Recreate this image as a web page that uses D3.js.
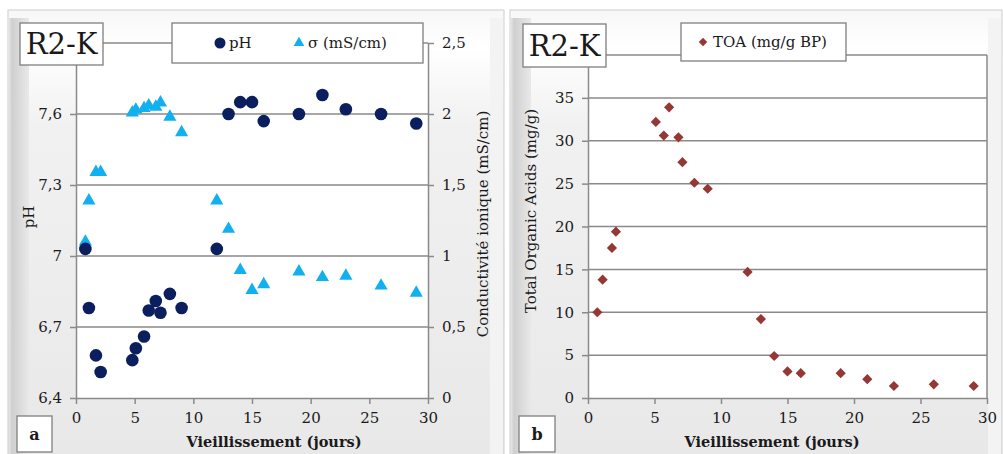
<!DOCTYPE html>
<html><head><meta charset="utf-8">
<script src="https://cdn.jsdelivr.net/npm/d3@7"></script>
<style>
body{margin:0;background:#fff}
svg{display:block}
text{font-family:"DejaVu Serif","Liberation Serif",serif;fill:#1a1a1a}
</style>
</head><body>
<svg id="c" width="1003" height="454"></svg>
<script>
// ---------- data ----------
const daysA = [0.8,1.1,1.7,2.1,4.8,5.1,5.8,6.2,6.8,7.2,8,9,12,13,14,15,16,19,21,23,26,29];
const pHValues = [7.03,6.78,6.58,6.51,6.56,6.61,6.66,6.77,6.81,6.76,6.84,6.78,7.03,7.60,7.65,7.65,7.57,7.60,7.68,7.62,7.60,7.56];
const sigmaValues = [1.10,1.39,1.59,1.59,2.01,2.03,2.04,2.06,2.05,2.08,1.98,1.87,1.39,1.19,0.90,0.76,0.80,0.89,0.85,0.86,0.79,0.74];
const daysB = [0.7,1.1,1.8,2.1,5.1,5.7,6.1,6.8,7.1,8,9,12,13,14,15,16,19,21,23,26,29];
const toaValues = [10.0,13.8,17.5,19.4,32.2,30.6,33.9,30.4,27.5,25.1,24.4,14.7,9.2,4.9,3.1,2.9,2.9,2.2,1.4,1.6,1.4];
const pHTicks = [6.4,6.7,7.0,7.3,7.6,7.9];
const sigmaTicks = [0,0.5,1,1.5,2,2.5];
const dayTicks = [0,5,10,15,20,25,30];
const toaTicks = [0,5,10,15,20,25,30,35,40];
const fmt = d => String(+d.toFixed(2)).replace('.', ',');

const COL_PH = "#0b1f5e", COL_SIG = "#12b0ee", COL_TOA = "#953735";
const GRID = "#8a8a8a";

const svg = d3.select("#c");
const defs = svg.append("defs");
const lg = defs.append("linearGradient").attr("id","leftBevel").attr("x1",0).attr("x2",1);
lg.append("stop").attr("offset",0).attr("stop-color","#e4e4e4");
lg.append("stop").attr("offset",0.15).attr("stop-color","#cfcfcf");
lg.append("stop").attr("offset",1).attr("stop-color","#e9e9e9");
const tg = defs.append("linearGradient").attr("id","topFill").attr("x1",0).attr("x2",0).attr("y1",0).attr("y2",1);
tg.append("stop").attr("offset",0).attr("stop-color","#f7f7f7");
tg.append("stop").attr("offset",0.08).attr("stop-color","#ffffff");
tg.append("stop").attr("offset",0.25).attr("stop-color","#f1f1f1");
tg.append("stop").attr("offset",1).attr("stop-color","#e8e8e8");

function frame(x0, x1) {
  const g = svg.append("g");
  g.append("rect").attr("x",x0).attr("y",10).attr("width",x1-x0).attr("height",460)
    .attr("fill","url(#topFill)").attr("stroke","#cdcdcd");
  g.append("rect").attr("x",x0+1).attr("y",18).attr("width",20).attr("height",450).attr("fill","url(#leftBevel)");
  g.append("rect").attr("x",x1-14).attr("y",18).attr("width",13).attr("height",450).attr("fill","#f3f3f3");
}
frame(8, 504);
frame(510, 1002);

function box(x, y, w, h, label, size, weight) {
  svg.append("rect").attr("x",x).attr("y",y).attr("width",w).attr("height",h)
    .attr("fill","#fff").attr("stroke","#7f7f7f").attr("stroke-width",1.3);
  svg.append("text").attr("x",x+w/2).attr("y",y+h/2).attr("text-anchor","middle")
    .attr("dominant-baseline","central").style("font-size",size+"px").style("font-weight",weight).text(label);
}

// ---------- panel a ----------
const xA = d3.scaleLinear().domain([0,30]).range([76,428]);
const yPH = d3.scaleLinear().domain([6.4,7.9]).range([398,43]);
const ySig = d3.scaleLinear().domain([0,2.5]).range([398,43]);

const gA = svg.append("g");
gA.append("rect").attr("x",xA(0)).attr("y",yPH(7.9)).attr("width",xA(30)-xA(0)).attr("height",yPH(6.4)-yPH(7.9)).attr("fill","#fff");
gA.selectAll("line.grid").data(pHTicks.slice(1)).join("line")
  .attr("x1",xA(0)).attr("x2",xA(30)).attr("y1",d=>yPH(d)).attr("y2",d=>yPH(d))
  .attr("stroke",GRID).attr("stroke-width",1.5);

const axL = gA.append("g").attr("transform",`translate(${xA(0)},0)`)
  .call(d3.axisLeft(yPH).tickValues(pHTicks.slice(0,5)).tickFormat(fmt).tickSize(6).tickSizeOuter(0));
const axR = gA.append("g").attr("transform",`translate(${xA(30)},0)`)
  .call(d3.axisRight(ySig).tickValues(sigmaTicks).tickFormat(fmt).tickSize(6).tickSizeOuter(0));
const axBA = gA.append("g").attr("transform",`translate(0,${yPH(6.4)})`)
  .call(d3.axisBottom(xA).tickValues(dayTicks).tickSize(6).tickSizeOuter(0));
[axL,axR,axBA].forEach(a=>{
  a.select(".domain").attr("stroke",GRID).attr("stroke-width",1.5);
  a.selectAll(".tick line").attr("stroke",GRID).attr("stroke-width",1.5);
  a.selectAll("text").style("font-size","15px").attr("fill","#1a1a1a").style("font-family",'"DejaVu Serif",serif');
});
axL.selectAll("text").attr("x",-14);
axR.selectAll("text").attr("x",14);
axBA.selectAll("text").attr("y",14);

gA.selectAll("path.sig").data(daysA).join("path")
  .attr("d", d3.symbol(d3.symbolTriangle, 75))
  .attr("transform",(d,i)=>`translate(${xA(d)},${ySig(sigmaValues[i])})`)
  .attr("fill",COL_SIG);
gA.selectAll("circle.ph").data(daysA).join("circle")
  .attr("cx",d=>xA(d)).attr("cy",(d,i)=>yPH(pHValues[i])).attr("r",6.3).attr("fill",COL_PH);

svg.append("text").attr("x",274).attr("y",447).attr("text-anchor","middle")
  .style("font-size","14.5px").style("font-weight","bold").text("Vieillissement (jours)");
svg.append("text").attr("transform","translate(34,217) rotate(-90)").attr("text-anchor","middle")
  .style("font-size","15px").text("pH");
svg.append("text").attr("transform","translate(488,224) rotate(-90)").attr("text-anchor","middle")
  .style("font-size","15px").text("Conductivité ionique (mS/cm)");

// legend a
svg.append("rect").attr("x",172).attr("y",23).attr("width",251).attr("height",40).attr("fill","#fff").attr("stroke","#7f7f7f").attr("stroke-width",1.3);
svg.append("circle").attr("cx",220).attr("cy",43).attr("r",5.5).attr("fill",COL_PH);
svg.append("text").attr("x",229).attr("y",48).style("font-size","15px").text("pH");
svg.append("path").attr("d",d3.symbol(d3.symbolTriangle,50)).attr("transform","translate(299,43)").attr("fill",COL_SIG);
svg.append("text").attr("x",308).attr("y",48).style("font-size","15px").text("σ (mS/cm)");

box(20, 23, 83, 42, "R2-K", 29, "normal");
box(17, 416, 35, 36, "a", 16, "bold");

// ---------- panel b ----------
const xB = d3.scaleLinear().domain([0,30]).range([588,987]);
const yT = d3.scaleLinear().domain([0,40]).range([398,55]);
const gB = svg.append("g");
gB.append("rect").attr("x",xB(0)).attr("y",yT(40)).attr("width",xB(30)-xB(0)).attr("height",yT(0)-yT(40)).attr("fill","#fff");
gB.selectAll("line.grid").data(toaTicks.slice(1)).join("line")
  .attr("x1",xB(0)).attr("x2",xB(30)).attr("y1",d=>yT(d)).attr("y2",d=>yT(d))
  .attr("stroke",GRID).attr("stroke-width",1.5);
gB.append("line").attr("x1",xB(30)).attr("x2",xB(30)).attr("y1",yT(40)).attr("y2",yT(0)).attr("stroke",GRID).attr("stroke-width",1.5);
const axLB = gB.append("g").attr("transform",`translate(${xB(0)},0)`)
  .call(d3.axisLeft(yT).tickValues(toaTicks.slice(0,8)).tickSize(6).tickSizeOuter(0));
const axBB = gB.append("g").attr("transform",`translate(0,${yT(0)})`)
  .call(d3.axisBottom(xB).tickValues(dayTicks).tickSize(6).tickSizeOuter(0));
[axLB,axBB].forEach(a=>{
  a.select(".domain").attr("stroke",GRID).attr("stroke-width",1.5);
  a.selectAll(".tick line").attr("stroke",GRID).attr("stroke-width",1.5);
  a.selectAll("text").style("font-size","15px").attr("fill","#1a1a1a").style("font-family",'"DejaVu Serif",serif');
});
axLB.selectAll("text").attr("x",-14);
axBB.selectAll("text").attr("y",14);

gB.selectAll("path.toa").data(daysB).join("path")
  .attr("d", d3.symbol(d3.symbolSquare, 52))
  .attr("transform",(d,i)=>`translate(${xB(d)},${yT(toaValues[i])}) rotate(45)`)
  .attr("fill",COL_TOA);

svg.append("text").attr("x",772).attr("y",447).attr("text-anchor","middle")
  .style("font-size","14.5px").style("font-weight","bold").text("Vieillissement (jours)");
svg.append("text").attr("transform","translate(536,211) rotate(-90)").attr("text-anchor","middle")
  .style("font-size","15px").text("Total Organic Acids (mg/g)");

svg.append("rect").attr("x",681).attr("y",23).attr("width",165).attr("height",38).attr("fill","#fff").attr("stroke","#7f7f7f").attr("stroke-width",1.3);
svg.append("path").attr("d",d3.symbol(d3.symbolSquare,36)).attr("transform","translate(703,42) rotate(45)").attr("fill",COL_TOA);
svg.append("text").attr("x",713).attr("y",47).style("font-size","15px").text("TOA (mg/g BP)");

box(523, 24, 83, 43, "R2-K", 29, "normal");
box(519, 416, 36, 36, "b", 16, "bold");
</script>
</body></html>
